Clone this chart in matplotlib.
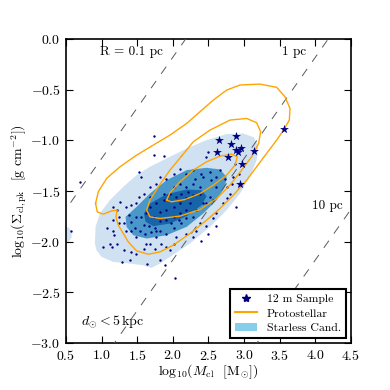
import numpy as np
import matplotlib
matplotlib.use("Agg")
import matplotlib.pyplot as plt
from matplotlib.lines import Line2D
from matplotlib.patches import Patch

plt.rcParams['font.family'] = 'serif'
plt.rcParams['font.serif'] = ['cmr10']
plt.rcParams['mathtext.fontset'] = 'cm'
plt.rcParams['axes.formatter.use_mathtext'] = True
plt.rcParams['xtick.direction'] = 'in'
plt.rcParams['ytick.direction'] = 'in'
plt.rcParams['xtick.top'] = True
plt.rcParams['ytick.right'] = True

# 12 m sample (stars)
star_m = [3.56, 2.88, 2.65, 2.82, 2.96, 2.62, 2.88, 2.91, 2.77, 3.14, 2.97, 2.94]
star_s = [-0.89, -0.955, -1.00, -1.04, -1.08, -1.12, -1.10, -1.12, -1.16, -1.11, -1.23, -1.43]

# starless candidates (dots)
dot_m = [0.70, 0.57, 1.74, 1.74, 1.88, 2.46, 2.50, 1.53, 1.55, 1.52, 1.26, 1.22, 1.16,
         1.24, 1.16, 1.17, 1.02, 1.21, 1.31, 1.42, 1.49, 1.28, 1.40, 1.59, 1.68, 1.64,
         1.82, 1.89, 2.03, 1.96, 2.01, 2.19, 2.29, 2.33, 2.38, 2.47, 2.57, 2.61, 2.71,
         2.76, 2.88, 2.80, 2.61, 2.54, 2.43, 2.29, 2.19, 2.10, 2.01, 1.91, 1.82, 1.77,
         1.68, 1.59, 1.49, 1.42, 1.38, 1.42, 1.47, 1.54, 1.61, 1.70, 1.77, 1.82, 1.91,
         2.01, 2.05, 2.12, 2.19, 2.29, 2.33, 2.43, 2.52, 2.38, 2.29, 2.19, 2.10, 2.01,
         1.96, 1.87, 1.77, 1.68, 1.63, 1.73, 1.82, 1.91, 2.01, 2.10, 2.19, 2.29, 2.38,
         1.82, 1.91, 2.01, 2.10, 2.19, 2.24, 2.05, 2.12, 2.22, 1.87, 1.68, 1.56, 1.59,
         1.66, 1.75, 1.98, 2.08, 2.31, 2.40, 2.52, 2.61, 2.66, 2.73, 2.76, 2.83, 2.87,
         2.93, 2.85, 2.61, 2.50, 2.40, 2.47, 2.57, 1.63, 1.75, 1.84, 1.91, 1.77, 1.49,
         1.42, 1.35, 1.31, 1.24, 1.16, 1.07, 1.12, 1.49, 1.35, 1.14]
dot_s = [-1.41, -1.89, -0.96, -1.14, -1.15, -1.16, -1.12, -1.31, -1.36, -1.56, -1.61, -1.69, -1.79,
         -1.82, -1.89, -1.93, -2.05, -2.02, -2.08, -2.10, -2.12, -2.20, -2.18, -2.07, -2.02, -2.22,
         -2.18, -2.23, -2.36, -2.08, -2.02, -1.92, -1.95, -1.89, -1.82, -1.85, -1.77, -1.72, -1.62,
         -1.57, -1.66, -1.53, -1.46, -1.39, -1.36, -1.29, -1.33, -1.28, -1.33, -1.38, -1.36, -1.43,
         -1.46, -1.53, -1.62, -1.64, -1.74, -1.81, -1.87, -1.89, -1.92, -1.90, -1.95, -1.89, -1.92,
         -1.87, -1.95, -1.82, -1.77, -1.76, -1.69, -1.62, -1.56, -1.46, -1.43, -1.46, -1.43, -1.46,
         -1.53, -1.59, -1.62, -1.66, -1.72, -1.76, -1.71, -1.69, -1.66, -1.62, -1.57, -1.54, -1.53,
         -1.80, -1.79, -1.76, -1.72, -1.69, -1.62, -1.56, -1.53, -1.51, -1.53, -1.56, -1.76, -1.84,
         -1.85, -1.87, -1.82, -1.79, -1.38, -1.33, -1.31, -1.36, -1.29, -1.38, -1.46, -1.43, -1.23,
         -1.33, -1.36, -1.85, -1.92, -1.99, -1.62, -1.59, -2.02, -2.07, -2.02, -2.05, -1.89, -1.95,
         -1.89, -1.89, -1.82, -1.76, -1.66, -1.87, -2.02, -1.76, -1.66, -2.05]

# starless density contours (outlines), outer -> inner
sl1_m = [0.907, 0.916, 0.977, 1.118, 1.305, 1.492, 1.679, 1.913, 2.194, 2.474, 2.755, 2.989,
         3.139, 3.200, 3.176, 3.082, 2.942, 2.755, 2.521, 2.240, 1.960, 1.819, 1.702, 1.585,
         1.398, 1.164, 1.000, 0.930]
sl1_s = [-2.018, -1.854, -1.722, -1.590, -1.459, -1.343, -1.261, -1.179, -1.080, -0.998, -0.938, -0.932,
         -0.971, -1.064, -1.195, -1.360, -1.525, -1.689, -1.854, -2.018, -2.150, -2.216, -2.259, -2.233,
         -2.216, -2.200, -2.150, -2.084]
blob_m = [0.50, 0.54, 0.58, 0.58, 0.54, 0.50]
blob_s = [-1.86, -1.86, -1.90, -1.96, -2.00, -2.00]
sl2_m = [1.337, 1.492, 1.679, 1.913, 2.194, 2.474, 2.661, 2.755, 2.732, 2.615, 2.427, 2.194,
         1.913, 1.632, 1.445, 1.351]
sl2_s = [-1.755, -1.656, -1.525, -1.393, -1.294, -1.271, -1.287, -1.360, -1.459, -1.590, -1.722, -1.854,
         -1.936, -1.969, -1.936, -1.854]
sl3_m = [1.595, 1.679, 1.913, 2.194, 2.404, 2.474, 2.404, 2.194, 1.960, 1.726, 1.618]
sl3_s = [-1.722, -1.623, -1.531, -1.485, -1.492, -1.551, -1.640, -1.748, -1.821, -1.847, -1.804]

# protostellar density contours, outer -> inner
ps1_m = [0.916, 0.954, 1.071, 1.258, 1.492, 1.726, 1.960, 2.194, 2.381, 2.568, 2.755, 2.942,
         3.223, 3.457, 3.574, 3.644, 3.635, 3.560, 3.457, 3.316, 3.176, 3.036, 2.849, 2.661,
         2.474, 2.240, 2.006, 1.819, 1.656, 1.492, 1.375, 1.305, 1.235, 1.202, 1.220, 1.141,
         1.024, 0.940]
ps1_s = [-1.623, -1.508, -1.376, -1.261, -1.146, -1.047, -0.948, -0.833, -0.718, -0.603, -0.504, -0.454,
         -0.445, -0.477, -0.570, -0.685, -0.800, -0.892, -0.998, -1.129, -1.261, -1.393, -1.541, -1.673,
         -1.788, -1.920, -2.035, -2.101, -2.124, -2.091, -2.002, -1.920, -1.837, -1.755, -1.689, -1.696,
         -1.729, -1.706]
ps2_m = [2.123, 2.287, 2.521, 2.802, 3.036, 3.176, 3.232, 3.204, 3.106, 2.966, 2.802, 2.615,
         2.381, 2.100, 1.819, 1.679, 1.632, 1.679, 1.796, 1.960]
ps2_s = [-1.156, -1.014, -0.899, -0.800, -0.784, -0.826, -0.915, -1.031, -1.162, -1.294, -1.442, -1.574,
         -1.683, -1.748, -1.771, -1.755, -1.689, -1.590, -1.459, -1.294]
ps3_m = [1.913, 1.960, 2.100, 2.287, 2.474, 2.661, 2.825, 2.905, 2.872, 2.755, 2.568, 2.381,
         2.170, 1.983]
ps3_s = [-1.590, -1.518, -1.409, -1.294, -1.212, -1.156, -1.136, -1.162, -1.245, -1.343, -1.442, -1.525,
         -1.584, -1.607]

# constant-radius lines: log Sigma = log M + offset
radius_offsets = [-2.18, -4.18, -6.18]

fig = plt.figure(figsize=(3.9, 3.9), dpi=100)
ax = fig.add_axes([0.169, 0.1205, 0.731, 0.7795])

blues = ['#d0e1f2', '#4a98c9', '#1864aa']
ax.fill(sl1_m, sl1_s, color=blues[0], lw=0, zorder=1)
ax.fill(blob_m, blob_s, color=blues[0], lw=0, zorder=1)
ax.fill(sl2_m, sl2_s, color=blues[1], lw=0, zorder=2)
ax.fill(sl3_m, sl3_s, color=blues[2], lw=0, zorder=3)

mline = np.array([0.0, 5.0])
for off in radius_offsets:
    l, = ax.plot(mline, mline + off, color='0.35', lw=0.7, zorder=4)
    l.set_dashes([9, 9])

ax.scatter(dot_m, dot_s, s=3, color='navy', lw=0, zorder=5)

for xs, ys in [(ps1_m, ps1_s), (ps2_m, ps2_s), (ps3_m, ps3_s)]:
    ax.plot(xs + xs[:1], ys + ys[:1], color='orange', lw=1.0, zorder=6,
            solid_joinstyle='round')

ax.scatter(star_m, star_s, marker='*', s=45, color='navy', lw=0, zorder=7)

ax.text(1.42, -0.13, 'R = 0.1 pc', ha='center', va='center', fontsize=9.5)
ax.text(3.70, -0.13, '1 pc', ha='center', va='center', fontsize=9.5)
ax.text(4.17, -1.65, '10 pc', ha='center', va='center', fontsize=9.5)
ax.text(1.15, -2.79, r'$d_{\odot} < 5\,\mathrm{kpc}$', ha='center', va='center', fontsize=10)

ax.set_xlim(0.5, 4.5)
ax.set_ylim(-3.0, 0.0)
ax.set_xticks(np.arange(0.5, 4.51, 0.5))
ax.set_yticks(np.arange(-3.0, 0.01, 0.5))
ax.tick_params(labelsize=10, length=5, width=0.8, pad=4)
ax.set_xlabel(r'log$_{10}$($M_{\rm cl}$  [M$_{\odot}$])', fontsize=10, labelpad=0)
ax.set_ylabel(r'log$_{10}$($\Sigma_{\rm cl,pk}$  [g cm$^{-2}$])', fontsize=10, labelpad=1)
for sp in ax.spines.values():
    sp.set_linewidth(1.2)

handles = [Line2D([], [], marker='*', color='navy', ls='none', markersize=6),
           Line2D([], [], color='orange', lw=1.5),
           Patch(facecolor='skyblue', edgecolor='none')]
leg = ax.legend(handles, ['12 m Sample', 'Protostellar', 'Starless Cand.'],
                loc='lower right', fontsize=8.5, fancybox=False, framealpha=1,
                borderaxespad=0.45, handlelength=1.9, handletextpad=0.8,
                labelspacing=0.35)
leg.get_frame().set_edgecolor('black')
leg.get_frame().set_linewidth(1.5)

fig.savefig('out.png', dpi=100)
